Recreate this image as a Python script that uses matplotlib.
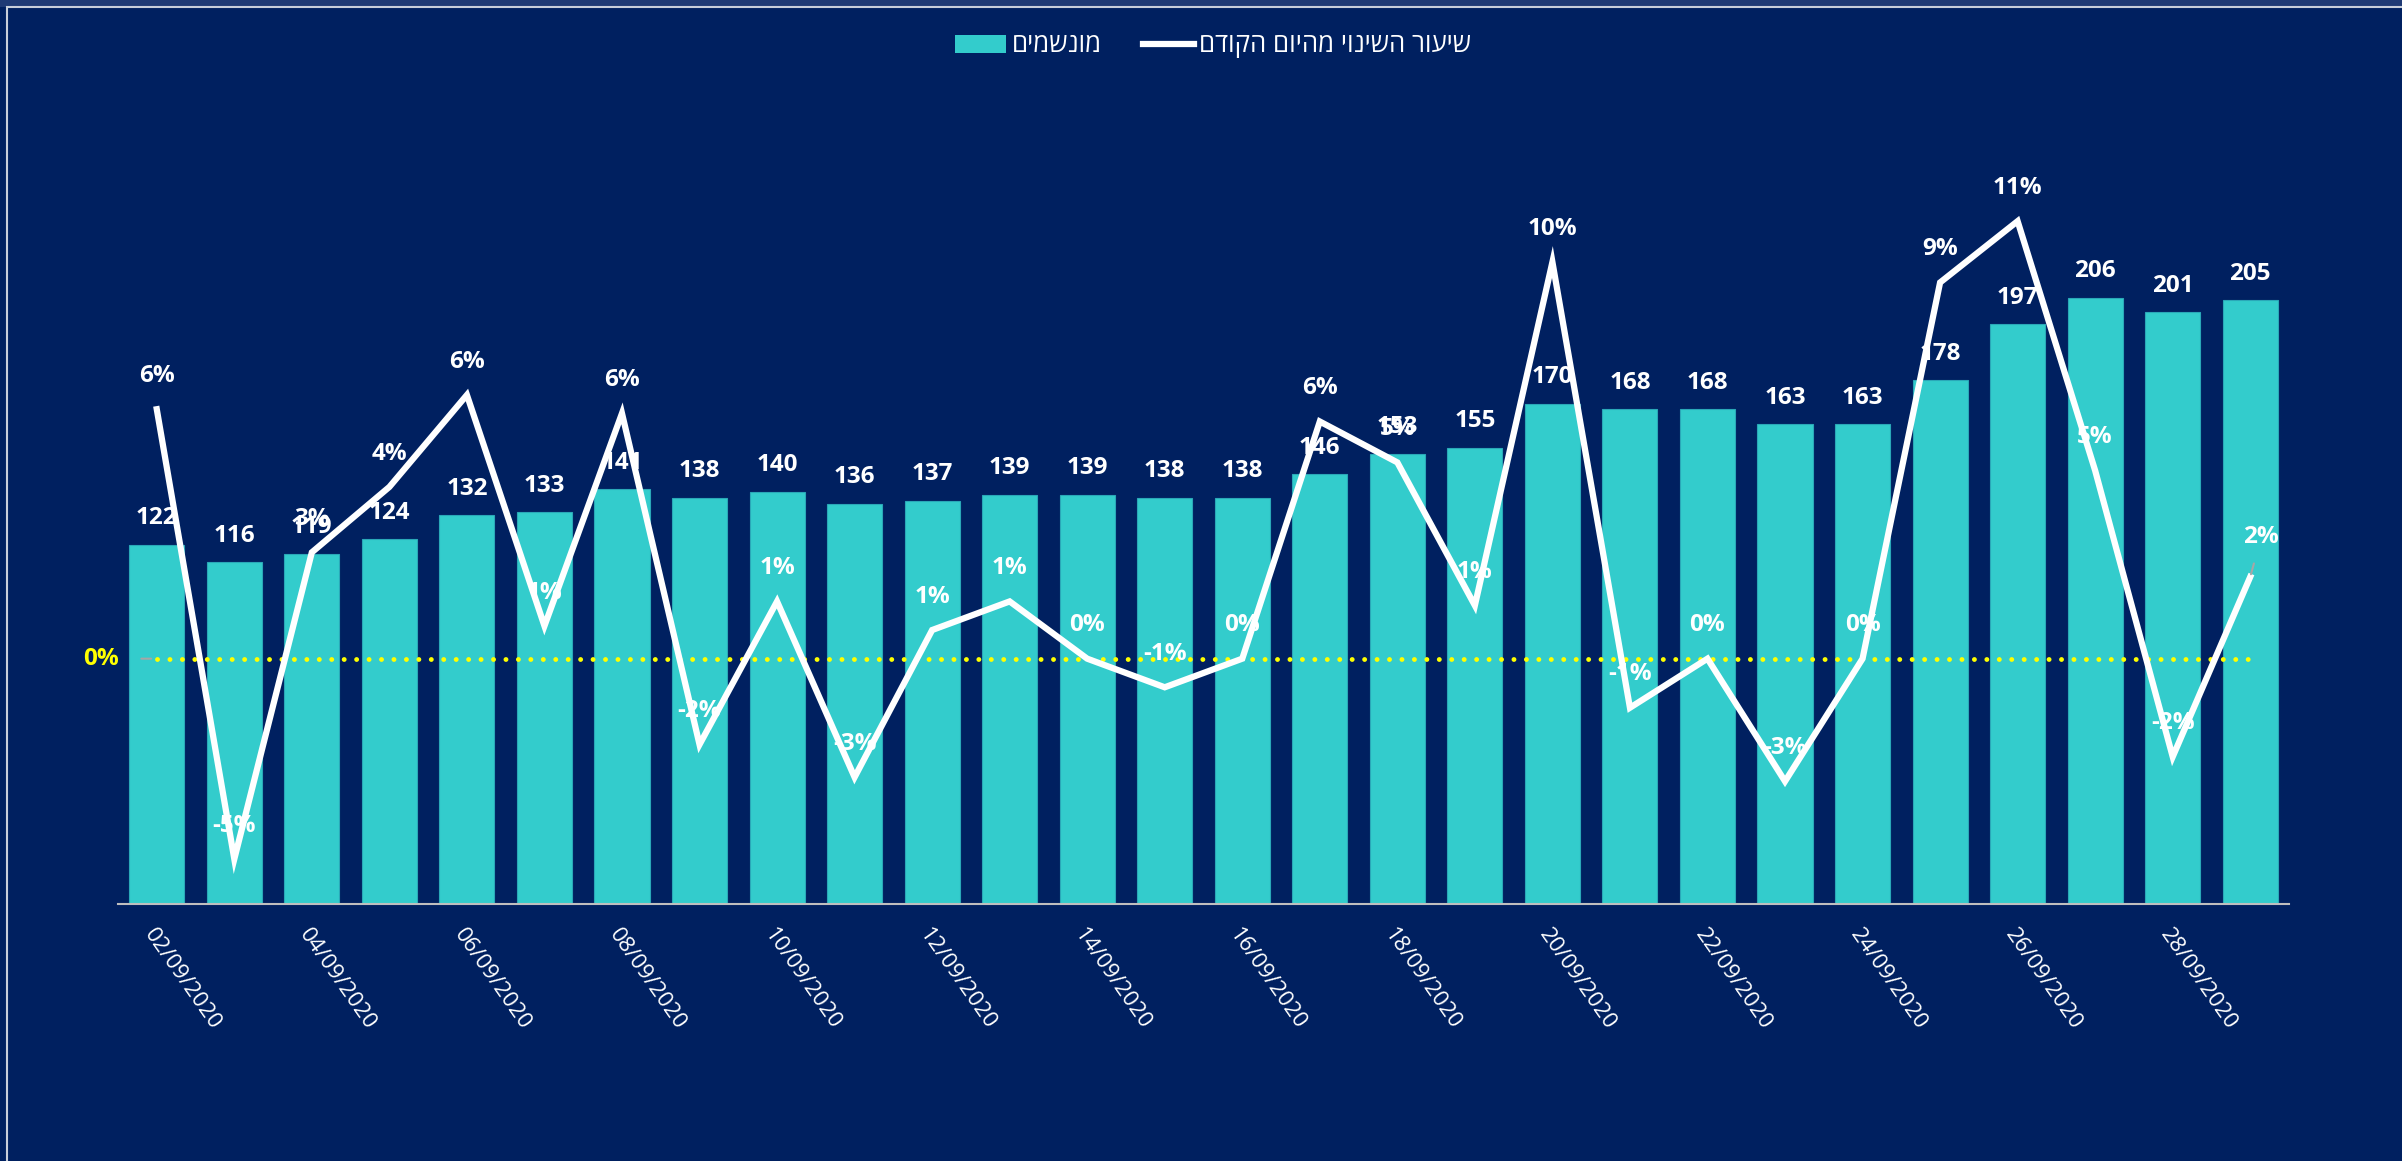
"""
Ventilated patients per day (Sept 2020) with the day-over-day change rate.
Bars on the primary axis, change-rate line on a twin axis.
"""

import matplotlib
matplotlib.use("Agg")
import matplotlib.pyplot as plt
from matplotlib.patches import Patch, Rectangle
from matplotlib.lines import Line2D

# ---------------------------------------------------------------------------
# Data
# ---------------------------------------------------------------------------
dates = [
    "02/09/2020", "03/09/2020", "04/09/2020", "05/09/2020", "06/09/2020",
    "07/09/2020", "08/09/2020", "09/09/2020", "10/09/2020", "11/09/2020",
    "12/09/2020", "13/09/2020", "14/09/2020", "15/09/2020", "16/09/2020",
    "17/09/2020", "18/09/2020", "19/09/2020", "20/09/2020", "21/09/2020",
    "22/09/2020", "23/09/2020", "24/09/2020", "25/09/2020", "26/09/2020",
    "27/09/2020", "28/09/2020", "29/09/2020",
]
ventilated = [122, 116, 119, 124, 132, 133, 141, 138, 140, 136, 137, 139, 139, 138,
              138, 146, 153, 155, 170, 168, 168, 163, 163, 178, 197, 206, 201, 205]
daily_change = [0.061, -0.049, 0.026, 0.042, 0.0645, 0.008, 0.060, -0.021, 0.014, -0.029,
                0.007, 0.014, 0.0, -0.007, 0.0, 0.058, 0.048, 0.013, 0.097, -0.012,
                0.0, -0.030, 0.0, 0.092, 0.107, 0.046, -0.024, 0.020]
zero_ref = [0.0] * len(dates)

label_bars = "מונשמים"
label_line = "שיעור השינוי מהיום הקודם"

BG = "#002060"
TEAL = "#33CCCC"
YELLOW = "#FFFF00"


def rtl(s):
    """matplotlib has no bidi support, so flip Hebrew strings for display."""
    return s[::-1]


def main():
    plt.rcParams['font.family'] = ['Open Sans', 'DejaVu Sans']

    fig = plt.figure(figsize=(24.02, 11.61), dpi=100, facecolor=BG)

    # thin frame + lighter strip on top, like the source screenshot
    fig.patches.append(Rectangle((0, 1 - 7 / 1161), 1, 7 / 1161, transform=fig.transFigure,
                                 facecolor="#1F3A75", edgecolor="none", zorder=0))
    fig.patches.append(Rectangle((7 / 2402, -0.01), 1.01, 1 - 7 / 1161 + 0.01,
                                 transform=fig.transFigure, facecolor="none",
                                 edgecolor="#C8CEDA", linewidth=1.5, zorder=1))

    ax = fig.add_axes([118 / 2402, 1 - 904 / 1161, (2289 - 118) / 2402, (904 - 168) / 1161])
    ax.set_facecolor(BG)
    x = list(range(len(dates)))

    # -- bars ---------------------------------------------------------------
    bars = ax.bar(x, ventilated, width=0.71, color=TEAL, edgecolor="#2AA8B8",
                  linewidth=0.8, zorder=2)
    for rect, v in zip(bars, ventilated):
        ax.annotate(str(v), (rect.get_x() + rect.get_width() / 2, v),
                    xytext=(0, 19), textcoords="offset points", ha="center", va="center",
                    color="white", fontsize=17.5, fontweight="bold", zorder=6)

    ax.set_xlim(-0.5, len(dates) - 0.5)
    ax.set_ylim(0, 250)
    ax.set_yticks([])
    ax.set_xticks(x[::2])
    ax.set_xticklabels(dates[::2], rotation=-55, ha="left", rotation_mode="anchor",
                       color="white", fontsize=16)
    ax.tick_params(axis="x", length=0, pad=15)
    for side in ("top", "left", "right"):
        ax.spines[side].set_visible(False)
    ax.spines["bottom"].set_color("#BFBFBF")
    ax.spines["bottom"].set_linewidth(1.5)

    # -- change-rate line on twin axis ----------------------------------------
    ax2 = ax.twinx()
    ax2.set_ylim(-0.06, 0.12)
    ax2.set_yticks([])
    for side in ("top", "left", "right", "bottom"):
        ax2.spines[side].set_visible(False)

    ax2.plot(x, zero_ref, color=YELLOW, linewidth=3.5, linestyle=(0, (0.01, 2.55)),
             dash_capstyle="round", zorder=3)
    ax2.annotate("0%", (0, 0), xytext=(-40, 0), textcoords="offset points",
                 ha="center", va="center", color=YELLOW, fontsize=17.5, fontweight="bold",
                 arrowprops=dict(arrowstyle="-", color="#A6A6A6", lw=1.5,
                                 shrinkA=14, shrinkB=4))

    ax2.plot(x, daily_change, color="white", linewidth=4.5, zorder=4,
             solid_joinstyle="miter")
    last = len(daily_change) - 1
    for i, v in enumerate(daily_change):
        txt = f"{v:.0%}"
        if i == last:
            ax2.annotate(txt, (i, v), xytext=(8, 29), textcoords="offset points",
                         ha="center", va="center", color="white", fontsize=17.5,
                         fontweight="bold", zorder=7,
                         arrowprops=dict(arrowstyle="-", color="#A6A6A6", lw=1.5,
                                         shrinkA=9, shrinkB=2))
        else:
            ax2.annotate(txt, (i, v), xytext=(0, 24), textcoords="offset points",
                         ha="center", va="center", color="white", fontsize=17.5,
                         fontweight="bold", zorder=7)

    # -- legend ---------------------------------------------------------------
    handles = [Patch(facecolor=TEAL, edgecolor="none"),
               Line2D([0], [0], color="white", linewidth=4.5)]
    fig.legend(handles, [rtl(label_bars), rtl(label_line)], loc="center",
               bbox_to_anchor=(0.505, 1 - 46 / 1161), ncol=2, frameon=False,
               fontsize=18.5, labelcolor="white", handlelength=2.0, handletextpad=0.2,
               columnspacing=1.6)

    fig.savefig("out.png", dpi=100, facecolor=BG)


if __name__ == "__main__":
    main()
